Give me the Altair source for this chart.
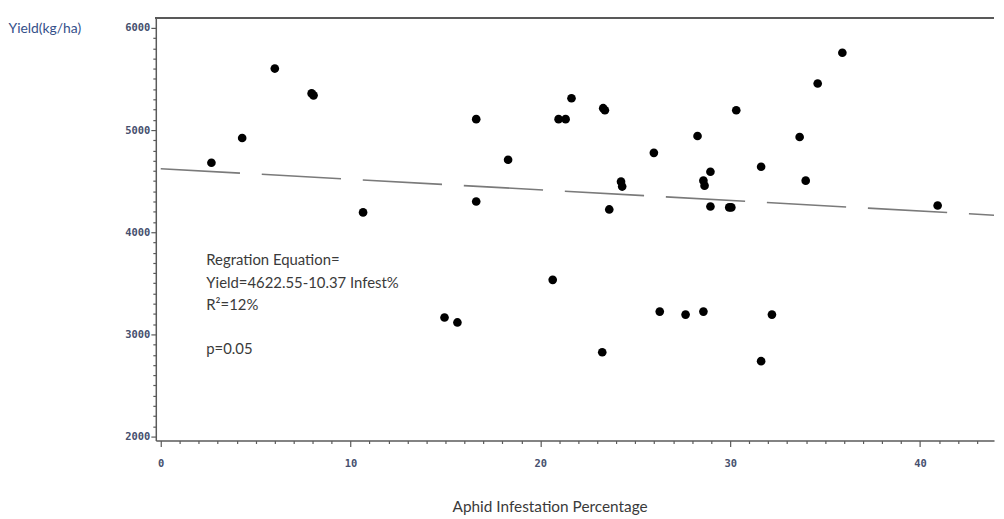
import altair as alt
import pandas as pd

# ---- data ----
infest = [2.67, 4.29, 6.01, 7.95, 8.05, 10.66, 14.95, 15.63, 16.62, 16.62,
          18.30, 20.65, 20.96, 21.33, 21.64, 23.31, 23.40, 23.26, 23.63, 24.25,
          24.31, 25.98, 26.29, 27.65, 28.28, 28.59, 28.65, 28.59, 28.96, 28.96,
          29.95, 30.06, 30.32, 31.63, 31.63, 32.20, 33.66, 33.98, 34.61, 35.91,
          40.93]
yield_kg = [4680, 4922, 5602, 5359, 5340, 4194, 3165, 3117, 5107, 4301,
            4709, 3534, 5107, 5107, 5311, 5214, 5194, 2825, 4223, 4495,
            4447, 4777, 3223, 3194, 4942, 4505, 4456, 3223, 4592, 4252,
            4243, 4243, 5194, 4641, 2738, 3194, 4932, 4505, 5456, 5757,
            4262]

fit_x = [0.0, 43.9]
fit_y = [4622, 4167]

note_text = ["Regration Equation=", "Yield=4622.55-10.37 Infest%", "R\u00b2=12%", "p=0.05"]
note_x = [2.40, 2.40, 2.40, 2.40]
note_y = [3728, 3505, 3291, 2854]

x_ticks = list(range(0, 44))
y_ticks = list(range(2000, 6001, 100))

W, H = 845, 426

pts = pd.DataFrame({"infest": infest, "yield": yield_kg})
fit = pd.DataFrame({"infest": fit_x, "yield": fit_y})
notes = pd.DataFrame({"t": note_text, "infest": note_x, "yield": note_y})

xs = alt.Scale(domain=[-0.26, 43.9], nice=False, zero=False)
ys = alt.Scale(domain=[1961, 6097], nice=False, zero=False)

label_font = "DejaVu Sans Mono"
label_color = "#46506e"
axis_color = "#5a5a5a"

x_axis = alt.Axis(
    values=x_ticks,
    labelExpr="datum.value % 10 === 0 ? datum.label : ''",
    tickSize={"condition": {"test": "datum.value % 10 === 0", "value": 6}, "value": 3},
    labelOverlap=False, labelFlush=False,
    labelFont=label_font, labelFontSize=10.5, labelFontWeight="bold",
    labelColor=label_color, labelPadding=12,
    domainColor=axis_color, domainWidth=1.5, tickColor=axis_color, tickWidth=1.2,
    grid=False,
    title="Aphid Infestation Percentage", titleFont="Lato", titleFontSize=15.5,
    titleFontWeight="normal", titleColor="#3a3a3a",
    titleX=397, titleY=67, titleAlign="center", titleBaseline="middle",
)
y_axis = alt.Axis(
    values=y_ticks, format="d",
    labelExpr="datum.value % 1000 === 0 ? datum.label : ''",
    tickSize={"condition": {"test": "datum.value % 1000 === 0", "value": 5}, "value": 3},
    labelOverlap=False, labelFlush=False,
    labelFont=label_font, labelFontSize=10.5, labelFontWeight="bold",
    labelColor=label_color, labelPadding=1,
    domainColor=axis_color, domainWidth=1.5, tickColor=axis_color, tickWidth=1.2,
    grid=False,
    title="Yield(kg/ha)", titleAngle=0, titleFont="Lato", titleFontSize=14,
    titleFontWeight="normal", titleColor="#34508a",
    titleX=-149, titleY=11, titleAlign="left", titleBaseline="middle",
)

X = alt.X("infest:Q", scale=xs, axis=x_axis)
Y = alt.Y("yield:Q", scale=ys, axis=y_axis)

points = alt.Chart(pts).mark_circle(size=76, color="black", opacity=1).encode(x=X, y=Y)

line = alt.Chart(fit).mark_line(color="#7a7a7a", strokeWidth=1.6, strokeDash=[80, 22]).encode(x=X, y=Y)

text = alt.Chart(notes).mark_text(
    align="left", baseline="middle", font="Lato", fontSize=15, color="#3a3a3a"
).encode(x=X, y=Y, text="t:N")

top_border = alt.Chart(pts).mark_rule(color=axis_color, strokeWidth=1.5).encode(
    x=alt.value(0), x2=alt.value(W), y=alt.value(0)
)

chart = alt.layer(points, line, text, top_border).properties(
    width=W, height=H,
    autosize=alt.AutoSizeParams(type="none"),
    padding={"left": 149, "top": 8, "right": 2, "bottom": 75},
    background="white",
).configure_view(stroke=None)

chart.save("out.html", embed_options={"renderer": "svg", "actions": False})
